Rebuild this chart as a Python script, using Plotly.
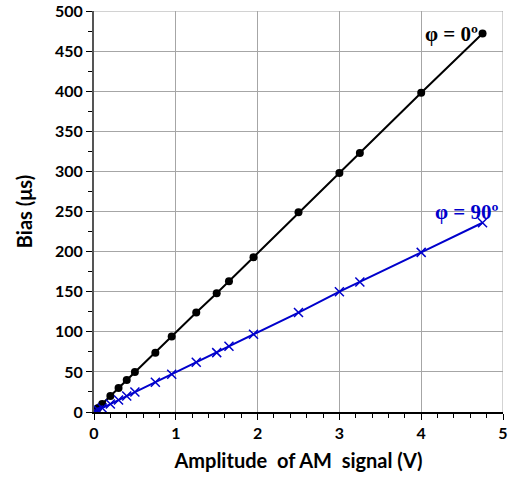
import plotly.graph_objects as go

amp = [0, 0.02, 0.05, 0.1, 0.2, 0.3, 0.4, 0.5, 0.75, 0.95, 1.25, 1.5, 1.65, 1.95, 2.5, 3.0, 3.25, 4.0, 4.75]
bias_0 = [0, 2, 5, 10, 20, 30, 40, 50, 74, 94, 124, 148, 163, 193, 249, 298, 323, 398, 472]
bias_90 = [0, 1, 2.5, 5, 10, 15, 20, 25, 37, 47, 62, 74, 82, 97, 124, 150, 162, 199, 236]
x_ticks = [0, 1, 2, 3, 4, 5]
y_ticks = [0, 50, 100, 150, 200, 250, 300, 350, 400, 450, 500]

fig = go.Figure()
fig.add_trace(go.Scatter(x=amp, y=bias_0, mode="lines+markers",
                         line=dict(color="black", width=2),
                         marker=dict(symbol="circle", size=8, color="black"),
                         showlegend=False))
fig.add_trace(go.Scatter(x=amp, y=bias_90, mode="lines+markers",
                         line=dict(color="#0000cc", width=2),
                         marker=dict(symbol="x-thin", size=9, color="#0000cc",
                                     line=dict(color="#0000cc", width=1.5)),
                         showlegend=False))

fig.add_annotation(x=4.75, y=472, text="<b>φ = 0º</b>", showarrow=False,
                   xanchor="right", yanchor="middle", xshift=-3, yshift=-1,
                   font=dict(family="Liberation Serif", size=21, color="black"))
fig.add_annotation(x=4.75, y=236, text="<b>φ = 90º</b>", showarrow=False,
                   xanchor="right", yanchor="bottom", xshift=18, yshift=-3,
                   font=dict(family="Liberation Serif", size=21, color="#0000cc"))

fig.update_layout(
    width=513, height=477,
    margin=dict(l=94, r=10, t=11, b=65),
    plot_bgcolor="white", paper_bgcolor="white",
    font=dict(family="Lato", color="black"),
)
fig.update_xaxes(range=[0, 5], tickvals=x_ticks, showgrid=True, gridcolor="#a6a6a6", gridwidth=1,
                 showline=True, linecolor="black", linewidth=1.5, zeroline=False, automargin=False,
                 ticks="outside", ticklen=6, tickcolor="black",
                 minor=dict(dtick=0.2, ticks="outside", ticklen=4, tickcolor="black", showgrid=False),
                 tickfont=dict(family="Lato", size=16, color="black", weight="bold"),
                 title=dict(text="<b>Amplitude  of AM  signal (V)</b>", font=dict(family="Lato", size=20), standoff=13))
fig.update_yaxes(range=[0, 500], tickvals=y_ticks, showgrid=True, gridcolor="#a6a6a6", gridwidth=1,
                 showline=True, linecolor="#555555", linewidth=2, zeroline=False, automargin=False,
                 ticks="outside", ticklen=6, tickcolor="black",
                 minor=dict(dtick=25, ticks="outside", ticklen=4, tickcolor="black", showgrid=False),
                 tickfont=dict(family="Lato", size=16, color="black", weight="bold"),
                 title=dict(text="<b>Bias (μs)</b>", font=dict(family="Lato", size=20), standoff=17))
fig.add_shape(type="line", xref="x", yref="y", x0=0, x1=5, y0=500, y1=500,
              line=dict(color="#a6a6a6", width=1))
fig.add_shape(type="line", xref="x", yref="y", x0=5, x1=5, y0=0, y1=500,
              line=dict(color="#a6a6a6", width=1))

fig.write_html("out.html", config={"displayModeBar": False},
               post_script="document.body.style.margin='0';document.body.style.overflow='hidden';")
